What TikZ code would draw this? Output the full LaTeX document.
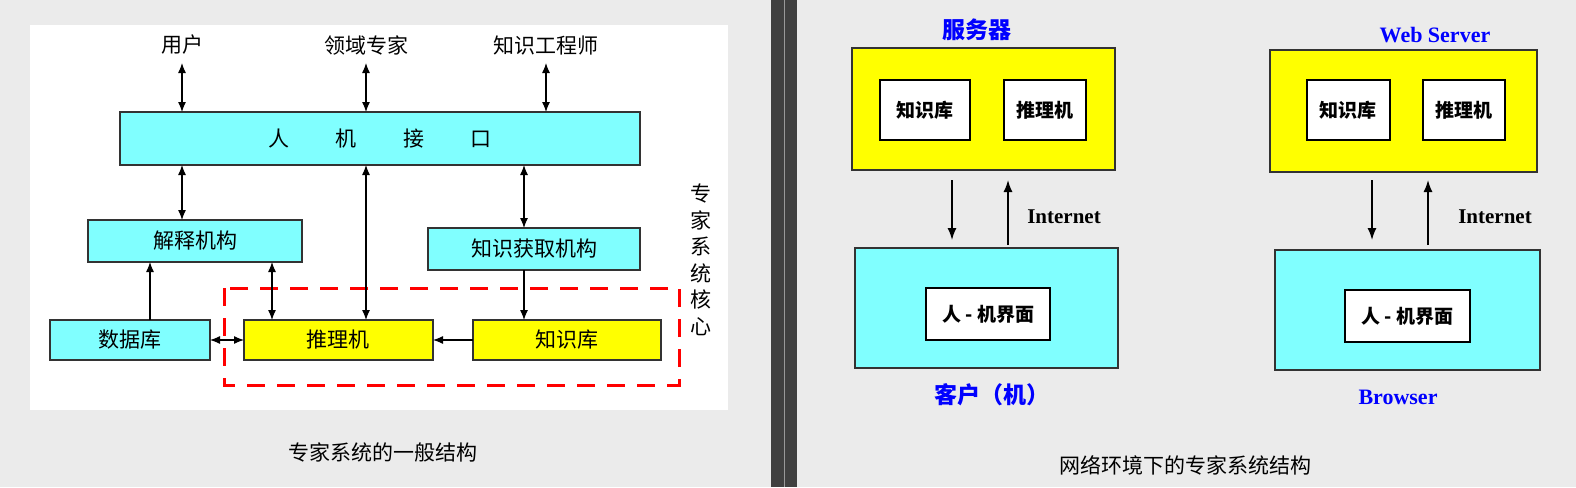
\documentclass[tikz,border=0pt]{standalone}
\usepackage{fontspec}
\setmainfont{Noto Sans CJK SC}
\newfontfamily\latser{Liberation Serif}
\usetikzlibrary{arrows.meta}
\definecolor{cy}{HTML}{80FFFF}
\definecolor{yl}{HTML}{FFFF00}
\definecolor{bl}{HTML}{0000FF}
\begin{document}
\begin{tikzpicture}[x=1pt,y=-1pt,
 cbox/.style={draw=black!80,fill=cy,line width=1.5pt},
 ybox/.style={draw=black!80,fill=yl,line width=1.5pt},
 wbox/.style={draw=black,fill=white,line width=1.2pt},
 lab/.style={font=\fontsize{21}{21}\selectfont},
 blab/.style={font=\bfseries\fontsize{19}{19}\selectfont},
 dar/.style={{Latex[length=10pt,width=8pt]}-{Latex[length=10pt,width=8pt]},line width=1.2pt},
 sar/.style={-{Latex[length=10pt,width=8pt]},line width=1.2pt},
 rar/.style={-{Latex[length=12pt,width=9pt]},line width=1.5pt}]
\useasboundingbox (0,0) rectangle (1576,487);
\fill[black!8] (0,0) rectangle (1576,487);
\fill[white] (30,25) rectangle (728,410);
\fill[black!75] (771,0) rectangle (797,487);
\draw[black!40,line width=0.8pt] (784,0) -- (784,487);
% left
\node[lab] (u) at (182,45) {用户};
\node[lab] (d) at (366,45) {领域专家};
\node[lab] (k) at (546,45) {知识工程师};
\draw[cbox] (120,112) rectangle (640,165);
\node[lab] (hm) at (380,138.5) {人\hspace{2.2em}机\hspace{2.2em}接\hspace{2.2em}口};
\draw[cbox] (88,220) rectangle (302,262); \node[lab] (js) at (195,241) {解释机构};
\draw[cbox] (428,228) rectangle (640,270); \node[lab] (zh) at (534,249) {知识获取机构};
\draw[cbox] (50,320) rectangle (210,360); \node[lab] (db) at (130,340) {数据库};
\draw[ybox] (244,320) rectangle (433,360); \node[lab] (tl) at (338,340) {推理机};
\draw[ybox] (473,320) rectangle (661,360); \node[lab] (kb) at (567,340) {知识库};
\draw[red,dash pattern=on 18pt off 12pt,line width=3pt] (224,288) rectangle (679,385);
\node[align=center,font=\fontsize{21}{26.5}\selectfont] (core) at (701,260) {专\\家\\系\\统\\核\\心};
\coordinate (a1) at (182,63); \coordinate (a1b) at (182,112);
\draw[dar] (a1) -- (a1b);
\coordinate (a2) at (366,63); \coordinate (a2b) at (366,112);
\draw[dar] (a2) -- (a2b);
\coordinate (a3) at (546,63); \coordinate (a3b) at (546,112);
\draw[dar] (a3) -- (a3b);
\coordinate (b1) at (182,165); \coordinate (b1b) at (182,220);
\draw[dar] (b1) -- (b1b);
\coordinate (b2) at (366,165); \coordinate (b2b) at (366,320);
\draw[dar] (b2) -- (b2b);
\coordinate (b3) at (524,165); \coordinate (b3b) at (524,228);
\draw[dar] (b3) -- (b3b);
\coordinate (c1) at (272,262); \coordinate (c1b) at (272,320);
\draw[dar] (c1) -- (c1b);
\coordinate (c2) at (150,320); \coordinate (c2b) at (150,262);
\draw[sar] (c2) -- (c2b);
\coordinate (c3) at (524,270); \coordinate (c3b) at (524,320);
\draw[sar] (c3) -- (c3b);
\coordinate (c4) at (473,340); \coordinate (c4b) at (433,340);
\draw[sar] (c4) -- (c4b);
\coordinate (c5) at (210,340); \coordinate (c5b) at (244,340);
\draw[dar] (c5) -- (c5b);
\node[font=\fontsize{21}{21}\selectfont] (cap1) at (383,452) {专家系统的一般结构};
% right 1
\node[text=bl,font=\bfseries\fontsize{23}{23}\selectfont] (fw) at (977,30) {服务器};
\draw[ybox,line width=1.8pt] (852,48) rectangle (1115,170);
\draw[wbox] (880,80) rectangle (970,140); \node[blab] (k1) at (925,110) {知识库};
\draw[wbox] (1004,80) rectangle (1086,140); \node[blab] (t1) at (1045,110) {推理机};
\draw[cbox,line width=1.8pt] (855,248) rectangle (1118,368);
\draw[wbox] (926,288) rectangle (1050,340); \node[blab] (h1) at (988,314) {人 - 机界面};
\coordinate (p1) at (952,180); \coordinate (p1b) at (952,240);
\draw[rar] (p1) -- (p1b);
\coordinate (q1) at (1008,245); \coordinate (q1b) at (1008,180);
\draw[rar] (q1) -- (q1b);
\node[font=\latser\bfseries\fontsize{21}{21}\selectfont] (i1) at (1064,217) {Internet};
\node[text=bl,font=\bfseries\fontsize{23}{23}\selectfont] (kh) at (992,395) {客户（机）};
% right 2
\node[text=bl,font=\latser\bfseries\fontsize{22}{22}\selectfont] (ws) at (1435,35) {Web Server};
\draw[ybox,line width=1.8pt] (1270,50) rectangle (1537,172);
\draw[wbox] (1307,80) rectangle (1390,140); \node[blab] (k2) at (1348,110) {知识库};
\draw[wbox] (1423,80) rectangle (1505,140); \node[blab] (t2) at (1464,110) {推理机};
\draw[cbox,line width=1.8pt] (1275,250) rectangle (1540,370);
\draw[wbox] (1345,290) rectangle (1470,342); \node[blab] (h2) at (1407,316) {人 - 机界面};
\coordinate (p2) at (1372,180); \coordinate (p2b) at (1372,240);
\draw[rar] (p2) -- (p2b);
\coordinate (q2) at (1428,245); \coordinate (q2b) at (1428,180);
\draw[rar] (q2) -- (q2b);
\node[font=\latser\bfseries\fontsize{21}{21}\selectfont] (i2) at (1495,217) {Internet};
\node[text=bl,font=\latser\bfseries\fontsize{22}{22}\selectfont] (br) at (1398,397) {Browser};
\node[font=\fontsize{21}{21}\selectfont] (cap2) at (1185,465) {网络环境下的专家系统结构};
\end{tikzpicture}
\end{document}
